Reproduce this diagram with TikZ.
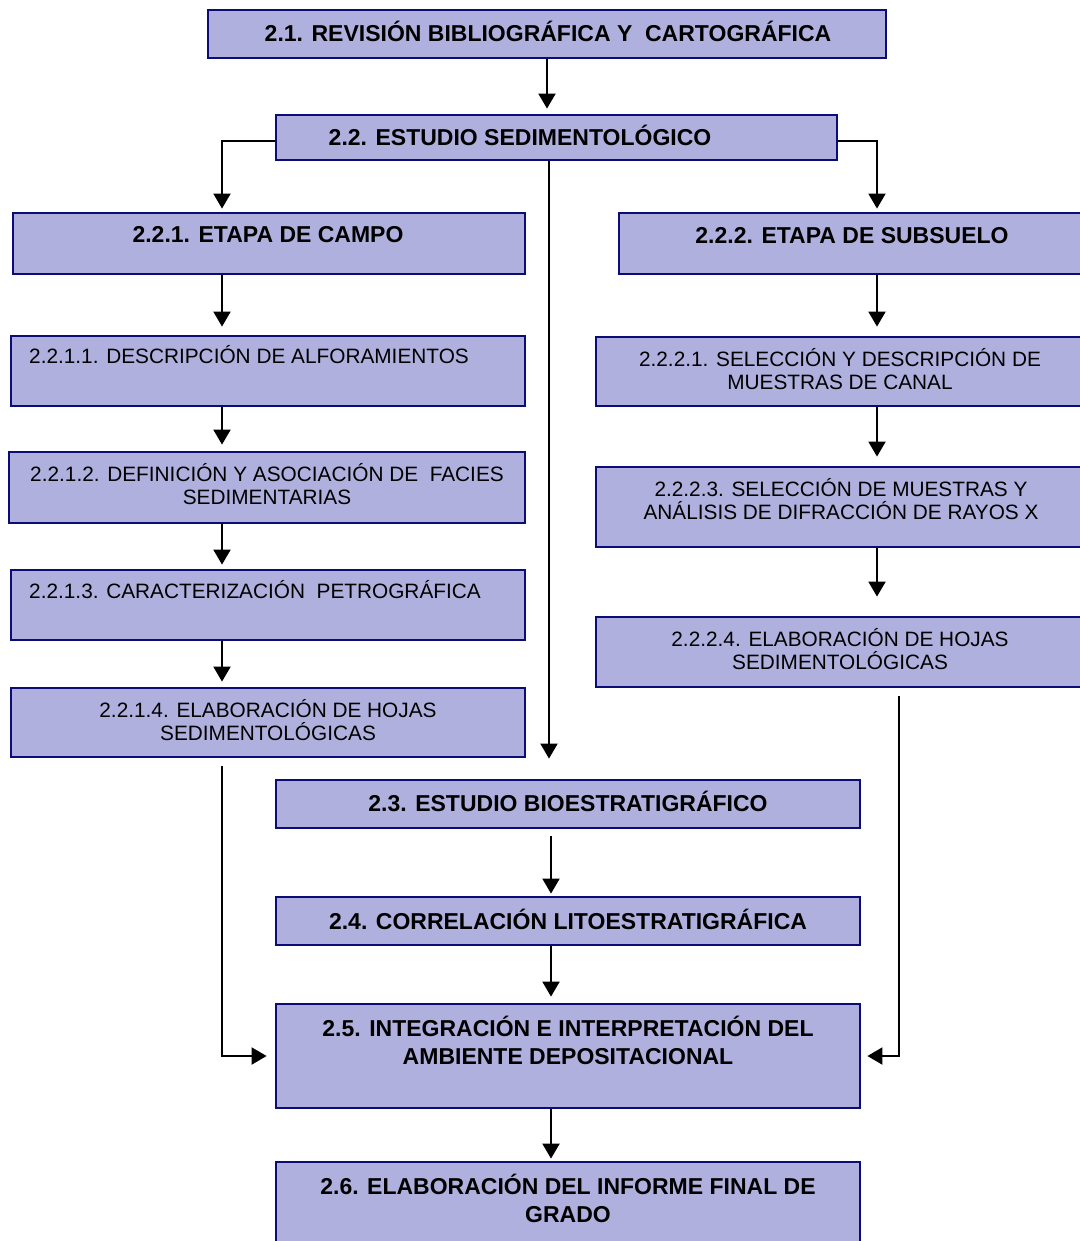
\documentclass[tikz,border=0pt]{standalone}
\usepackage{fontspec}
\setmainfont{Liberation Sans}
\usetikzlibrary{arrows.meta}
\definecolor{boxfill}{RGB}{176,176,222}
\definecolor{boxline}{RGB}{12,12,120}
\tikzset{
        box/.style={draw=boxline,line width=1.4pt,fill=boxfill,inner sep=0pt},
        bigtxt/.style={font=\fontsize{11.5}{14}\selectfont\bfseries,align=center,inner sep=0pt,yshift=1pt},
        smalltxt/.style={font=\fontsize{10.4}{11.5}\selectfont,align=center,inner sep=0pt,yshift=1pt},
        arr/.style={line width=1pt,-{Triangle[length=7.5pt,width=8.5pt]}}
    }
\begin{document}
\begin{tikzpicture}[x=0.5pt,y=-0.5pt]
\useasboundingbox (0,0) rectangle (1080,1241);

\draw (547,34) node(B21)[box,minimum width=339pt,minimum height=24pt]{};
\draw (556.5,137.5) node(B22)[box,minimum width=280.5pt,minimum height=22.5pt]{};
\draw (269,243.5) node(B221)[box,minimum width=256pt,minimum height=30.5pt]{};
\draw (852,243.5) node(B222)[box,minimum width=233pt,minimum height=30.5pt]{};
\draw (268,371) node(B2211)[box,minimum width=257pt,minimum height=35pt]{};
\draw (267,487.5) node(B2212)[box,minimum width=258pt,minimum height=35.5pt]{};
\draw (268,605) node(B2213)[box,minimum width=257pt,minimum height=35pt]{};
\draw (268,722.5) node(B2214)[box,minimum width=257pt,minimum height=34.5pt]{};
\draw (840,371.5) node(B2221)[box,minimum width=244pt,minimum height=34.5pt]{};
\draw (840,507) node(B2223)[box,minimum width=244pt,minimum height=40pt]{};
\draw (840,652) node(B2224)[box,minimum width=244pt,minimum height=35pt]{};
\draw (568,804) node(B23)[box,minimum width=292pt,minimum height=24pt]{};
\draw (568,921) node(B24)[box,minimum width=292pt,minimum height=24pt]{};
\draw (568,1056) node(B25)[box,minimum width=292pt,minimum height=52pt]{};
\draw (568,1214) node(B26)[box,minimum width=292pt,minimum height=52pt]{};

\draw (548,33) node(T21)[bigtxt]{2.1. REVISIÓN BIBLIOGRÁFICA Y\ \ CARTOGRÁFICA};
\draw (520,137) node(T22)[bigtxt]{2.2. ESTUDIO SEDIMENTOLÓGICO};
\draw (268,237) node(T221)[bigtxt]{2.2.1. ETAPA DE CAMPO};
\draw (852,238) node(T222)[bigtxt]{2.2.2. ETAPA DE SUBSUELO};
\draw (249,357) node(T2211)[smalltxt]{2.2.1.1. DESCRIPCIÓN DE ALFORAMIENTOS};
\draw (267,486) node(T2212)[smalltxt]{2.2.1.2. DEFINICIÓN Y ASOCIACIÓN DE\ \ FACIES\\SEDIMENTARIAS};
\draw (255,592) node(T2213)[smalltxt]{2.2.1.3. CARACTERIZACIÓN\ \ PETROGRÁFICA};
\draw (268,722) node(T2214)[smalltxt]{2.2.1.4. ELABORACIÓN DE HOJAS\\SEDIMENTOLÓGICAS};
\draw (840,371) node(T2221)[smalltxt]{2.2.2.1. SELECCIÓN Y DESCRIPCIÓN DE\\MUESTRAS DE CANAL};
\draw (841,501) node(T2223)[smalltxt]{2.2.2.3. SELECCIÓN DE MUESTRAS Y\\ANÁLISIS DE DIFRACCIÓN DE RAYOS X};
\draw (840,651) node(T2224)[smalltxt]{2.2.2.4. ELABORACIÓN DE HOJAS\\SEDIMENTOLÓGICAS};
\draw (568,803) node(T23)[bigtxt]{2.3. ESTUDIO BIOESTRATIGRÁFICO};
\draw (568,921) node(T24)[bigtxt]{2.4. CORRELACIÓN LITOESTRATIGRÁFICA};
\draw (568,1042) node(T25)[bigtxt]{2.5. INTEGRACIÓN E INTERPRETACIÓN DEL\\AMBIENTE DEPOSITACIONAL};
\draw (568,1200) node(T26)[bigtxt]{2.6. ELABORACIÓN DEL INFORME FINAL DE\\GRADO};

\coordinate (CL) at (222,0);
\coordinate (CR) at (877,0);
\coordinate (CM) at (549,0);
\coordinate (CB) at (551,0);
\coordinate (CR2) at (899,0);

\draw[arr,shorten >=2.5pt] (B21.south) -- (B21.south |- B22.north);
\draw[arr,shorten >=1.5pt] ([yshift=-2pt]B22.west) -| (B221.north -| CL);
\draw[arr,shorten >=1.5pt] ([yshift=-2pt]B22.east) -| (B222.north -| CR);
\draw[arr,shorten >=10pt] (B22.south -| CM) -- (B23.north -| CM);

\draw[arr,shorten >=4pt] (B221.south -| CL) -- (B2211.north -| CL);
\draw[arr,shorten >=3pt] (B2211.south -| CL) -- (B2212.north -| CL);
\draw[arr,shorten >=2pt] (B2212.south -| CL) -- (B2213.north -| CL);
\draw[arr,shorten >=2.5pt] (B2213.south -| CL) -- (B2214.north -| CL);
\draw[arr,shorten <=4pt,shorten >=4pt] (B2214.south -| CL) |- (B25.west);

\draw[arr,shorten >=4.5pt] (B222.south -| CR) -- (B2221.north -| CR);
\draw[arr,shorten >=4.5pt] (B2221.south -| CR) -- (B2223.north -| CR);
\draw[arr,shorten >=9.5pt] (B2223.south -| CR) -- (B2224.north -| CR);
\draw[arr,shorten <=4pt,shorten >=3pt] (B2224.south -| CR2) |- (B25.east);

\draw[arr,shorten <=3.5pt,shorten >=1pt] (B23.south -| CB) -- (B24.north -| CB);
\draw[arr,shorten >=3pt] (B24.south -| CB) -- (B25.north -| CB);
\draw[arr,shorten >=1pt] (B25.south -| CB) -- (B26.north -| CB);

\end{tikzpicture}
\end{document}
